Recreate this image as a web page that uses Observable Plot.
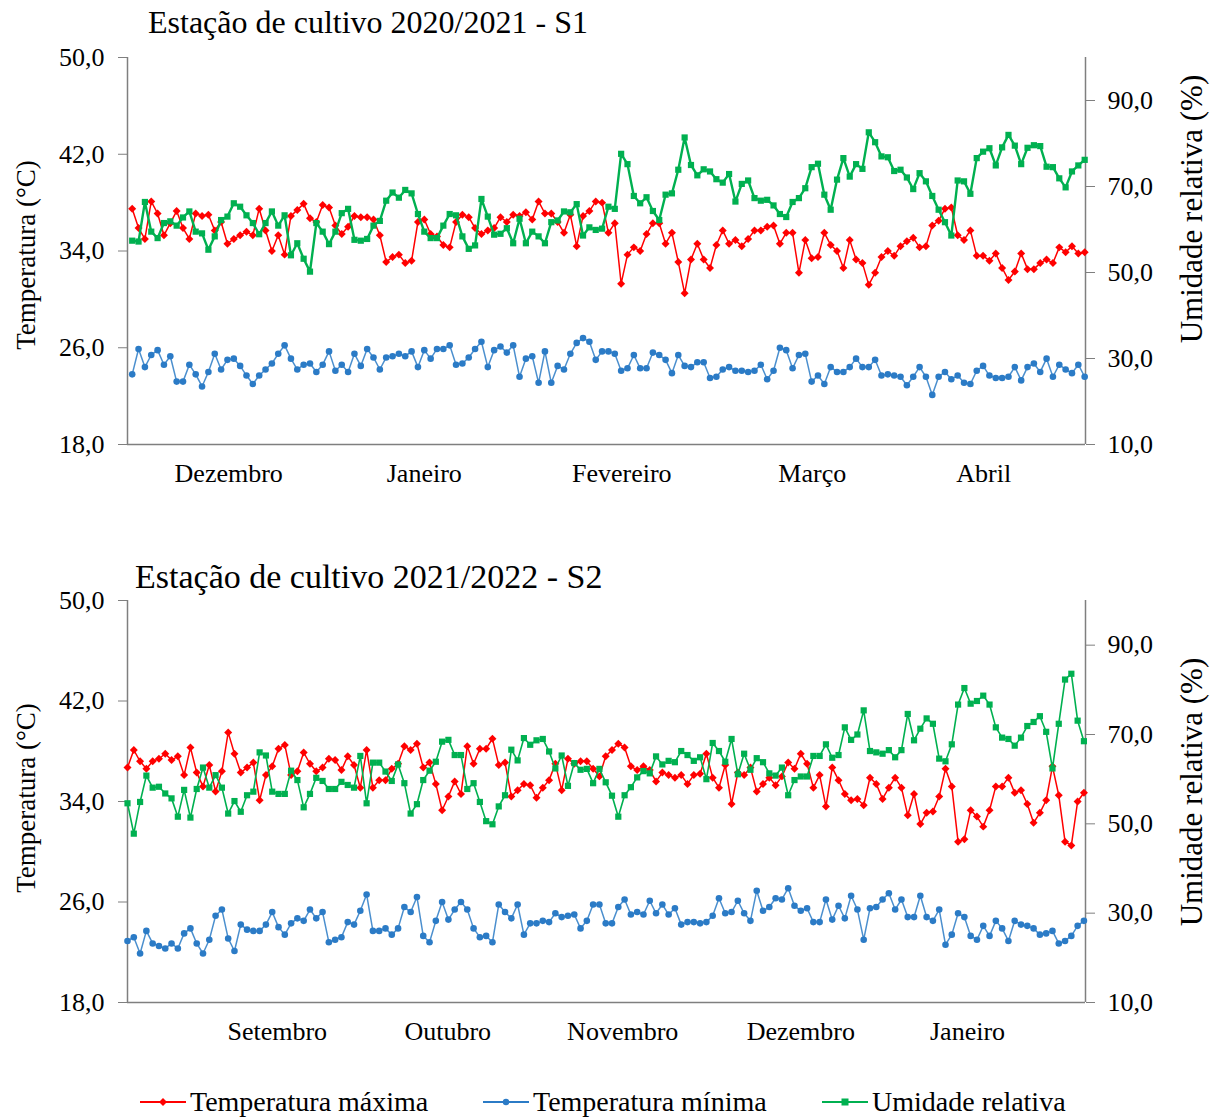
<!DOCTYPE html>
<html>
<head>
<meta charset="utf-8">
<script src="https://cdn.jsdelivr.net/npm/d3@7"></script>
<script src="https://cdn.jsdelivr.net/npm/@observablehq/plot@0.6"></script>
<style>
  body { margin: 0; background: #fff; }
  #page { position: relative; width: 1210px; height: 1119px; overflow: hidden;
          font-family: "Liberation Serif", "Times New Roman", serif; color: #000; }
  .panel { position: absolute; left: 0; }
  .title { position: absolute; white-space: nowrap; line-height: 1; }
  .vlabel { position: absolute; white-space: nowrap; line-height: 1;
            font-family: "Liberation Serif", "Times New Roman", serif;
            transform: translate(-50%, -50%) rotate(-90deg); }
  .legend-item { position: absolute; top: 1088px; display: flex; align-items: center;
                 font-size: 28px; white-space: nowrap; line-height: 1; }
  .legend-item svg { display: block; margin-right: 4px; }
</style>
</head>
<body>
<div id="page"></div>
<script>
// Shared scales: temperature on the left axis, relative humidity on the right axis
const tempDomain = [18, 50];
const rhDomain = [10, 100];
const tempTicks = [18, 26, 34, 42, 50];
const rhTicks = [10, 30, 50, 70, 90];

const seriesNames = ["Temperatura máxima", "Temperatura mínima", "Umidade relativa"];
const seriesColors = ["#ff0000", "#2b7bc6", "#00b050"];

// ---- Season 2020/2021 (S1): daily values, 1 Dec 2020 to 30 Apr 2021
const s1Title = "Estação de cultivo 2020/2021 - S1";
const s1Months = ["Dezembro", "Janeiro", "Fevereiro", "Março", "Abril"];
const s1MonthPos = [15.2, 46.0, 77.1, 107.1, 134.1];
const s1Tmax = [
  37.5, 35.9, 35.0, 38.1, 37.1, 35.3, 36.3, 37.3, 35.9, 35.0, 37.1, 36.9, 37.0, 35.7, 36.4, 34.6, 35.0, 35.3, 35.6, 35.3,
  37.5, 35.7, 34.0, 35.3, 33.7, 36.9, 37.4, 37.9, 36.7, 36.4, 37.8, 37.6, 36.1, 35.4, 36.0, 36.9, 36.8, 36.8,
  36.6, 35.3, 33.1, 33.5, 33.7, 33.0, 33.2, 36.4, 36.6, 35.4, 35.2, 34.5, 34.3, 36.4, 37.0, 36.8, 35.9, 35.4, 35.7, 35.9,
  36.8, 36.4, 37.0, 36.9, 37.2, 36.6, 38.1, 37.1, 37.1, 36.4, 35.5, 37.0, 34.4, 36.9, 37.3, 38.1, 38.0, 35.5,
  36.3, 31.3, 33.7, 34.3, 34.0, 35.4, 36.3, 36.3, 34.6, 35.5, 33.1, 30.5, 33.3, 34.6, 33.3, 32.6, 34.5, 35.7, 34.6, 34.9,
  34.4, 35.0, 35.7, 35.7, 36.0, 36.1, 34.6, 35.5, 35.5, 32.2, 34.9, 33.4, 33.5, 35.5, 34.5, 34.0, 32.6, 34.9,
  33.3, 33.0, 31.2, 32.2, 33.5, 34.0, 33.6, 34.4, 34.8, 35.1, 34.3, 34.4, 36.1, 36.5, 37.5, 37.6, 35.3, 34.9, 35.7, 33.6,
  33.6, 33.2, 33.8, 32.6, 31.6, 32.3, 33.8, 32.5, 32.5, 33.0, 33.3, 33.0, 34.3, 33.9, 34.4, 33.8, 33.9
];
const s1Tmin = [
  23.8, 25.9, 24.4, 25.4, 25.8, 24.6, 25.3, 23.2, 23.2, 24.6, 23.8, 22.8, 24.0, 25.5, 24.2, 25.0, 25.1, 24.5, 23.7, 23.0,
  23.7, 24.2, 24.7, 25.5, 26.2, 25.1, 24.2, 24.6, 24.7, 24.0, 24.6, 25.7, 24.1, 24.6, 24.0, 25.5, 24.5, 25.9,
  25.2, 24.2, 25.2, 25.3, 25.5, 25.3, 25.7, 24.4, 25.8, 25.1, 25.9, 25.9, 26.2, 24.6, 24.7, 25.2, 25.9, 26.5, 24.4, 25.8,
  26.1, 25.6, 26.2, 23.6, 25.1, 25.3, 23.1, 25.7, 23.1, 24.5, 24.2, 25.5, 26.4, 26.8, 26.5, 25.0, 25.7, 25.7,
  25.5, 24.1, 24.3, 25.4, 24.3, 24.3, 25.6, 25.4, 25.0, 23.9, 25.4, 24.5, 24.4, 24.8, 24.8, 23.5, 23.6, 24.2, 24.4, 24.1,
  24.1, 24.0, 24.1, 24.6, 23.4, 24.1, 26.0, 25.8, 24.3, 25.4, 25.5, 23.2, 23.7, 23.0, 24.4, 24.0, 24.0, 24.4,
  25.1, 24.4, 24.4, 25.0, 23.7, 23.8, 23.7, 23.6, 22.9, 23.6, 24.4, 23.6, 22.1, 23.6, 24.0, 23.4, 23.7, 23.1, 23.0, 24.1,
  24.5, 23.7, 23.5, 23.5, 23.6, 24.4, 23.3, 24.4, 24.7, 24.0, 25.1, 23.6, 24.6, 24.2, 23.9, 24.6, 23.6
];
const s1Rh = [
  57.4, 57.2, 66.4, 59.5, 58.0, 61.5, 61.9, 60.9, 62.8, 64.2, 59.5, 59.1, 55.3, 58.4, 62.2, 63.0, 66.1, 65.3, 63.3, 61.5,
  58.9, 61.5, 64.2, 60.9, 63.3, 54.0, 56.8, 53.2, 50.2, 61.5, 59.5, 56.6, 59.5, 63.8, 64.8, 57.6, 57.4, 57.8,
  60.9, 62.0, 66.7, 68.6, 67.4, 69.2, 68.4, 63.6, 59.5, 58.0, 58.0, 60.9, 63.6, 63.3, 58.4, 55.5, 56.3, 67.1, 63.0, 58.8,
  59.0, 60.3, 56.8, 62.5, 56.8, 59.5, 58.4, 56.8, 61.7, 62.1, 64.2, 64.0, 65.9, 58.6, 60.5, 59.9, 60.2, 65.3,
  64.8, 77.6, 75.2, 67.8, 66.1, 67.5, 64.3, 62.2, 68.1, 68.4, 73.9, 81.4, 75.0, 72.6, 74.0, 73.5, 71.7, 70.9, 72.9, 66.5,
  70.6, 71.4, 67.3, 66.7, 66.9, 65.6, 63.6, 62.9, 66.4, 67.3, 69.6, 74.5, 75.3, 68.1, 64.6, 71.6, 76.6, 72.3,
  75.2, 74.1, 82.6, 80.3, 77.0, 76.8, 73.6, 73.9, 72.1, 69.4, 73.1, 71.2, 67.8, 64.6, 61.7, 58.6, 71.4, 71.2, 68.3, 76.6,
  78.1, 78.9, 74.9, 79.1, 82.0, 79.5, 75.2, 79.0, 79.6, 79.4, 74.6, 74.5, 71.9, 69.8, 73.5, 74.9, 76.2
];

// ---- Season 2021/2022 (S2)
const s2Title = "Estação de cultivo 2021/2022 - S2";
const s2Months = ["Setembro", "Outubro", "Novembro", "Dezembro", "Janeiro"];
const s2MonthPos = [23.8, 50.9, 78.7, 107.0, 133.5];
const s2Tmax = [
  36.7, 38.1, 37.2, 36.6, 37.2, 37.4, 37.8, 37.3, 37.6, 36.1, 38.3, 36.3, 35.2, 36.9, 34.8, 36.4, 39.5, 37.8, 36.3, 36.7,
  37.1, 34.1, 36.1, 36.8, 38.2, 38.5, 36.1, 36.4, 37.9, 37.0, 36.4, 36.7, 37.4, 37.3, 36.5, 37.6, 36.9, 35.1, 38.1,
  35.1, 35.7, 35.7, 36.6, 37.0, 38.4, 38.1, 38.6, 36.7, 37.1, 35.4, 33.3, 34.4, 35.6, 34.6, 38.4, 37.0, 38.2, 38.2, 39.0,
  36.9, 37.1, 34.4, 34.9, 35.4, 35.3, 34.3, 35.1, 35.7, 37.0, 34.9, 37.4, 37.0, 37.2, 37.2, 36.6, 36.0, 37.6,
  38.1, 38.6, 38.3, 36.8, 36.5, 36.8, 36.5, 35.6, 36.3, 36.1, 35.9, 36.1, 35.4, 36.1, 36.2, 37.8, 35.9, 35.1, 36.9, 33.8,
  36.3, 36.1, 36.7, 34.8, 35.4, 35.9, 35.3, 36.0, 37.1, 36.6, 37.8, 37.0, 35.1, 36.1, 33.6, 36.7, 35.7, 34.6, 34.1,
  34.2, 33.7, 35.9, 35.4, 34.2, 35.1, 35.9, 35.1, 32.9, 34.6, 32.2, 33.1, 33.2, 34.4, 36.6, 35.2, 30.8, 31.0, 33.3, 32.8,
  32.0, 33.3, 35.2, 35.2, 35.9, 34.7, 34.9, 33.8, 32.3, 33.1, 34.1, 36.8, 34.5, 30.8, 30.5, 34.0, 34.7
];
const s2Tmin = [
  22.9, 23.2, 21.9, 23.7, 22.7, 22.5, 22.3, 22.7, 22.3, 23.5, 23.9, 22.7, 21.9, 23.0, 24.9, 25.4, 23.1, 22.1, 24.2, 23.8,
  23.7, 23.7, 24.2, 25.2, 24.0, 23.4, 24.3, 24.7, 24.5, 25.4, 24.7, 25.2, 22.8, 23.0, 23.2, 24.4, 24.2, 25.3, 26.6,
  23.7, 23.7, 23.9, 23.4, 23.9, 25.6, 25.2, 26.4, 23.3, 22.8, 24.5, 26.0, 24.6, 25.4, 26.0, 25.4, 23.9, 23.2, 23.3, 22.8,
  25.8, 25.2, 24.7, 25.8, 23.4, 24.3, 24.3, 24.5, 24.4, 25.1, 24.8, 24.9, 25.0, 23.9, 24.5, 25.8, 25.8, 24.3,
  24.3, 25.6, 26.2, 25.0, 25.2, 25.0, 26.1, 25.1, 25.8, 25.0, 25.5, 24.2, 24.4, 24.4, 24.3, 24.4, 24.9, 26.3, 25.1, 25.2,
  26.1, 25.1, 24.5, 26.9, 25.3, 25.6, 26.3, 26.2, 27.1, 25.7, 25.3, 25.5, 24.4, 24.4, 26.2, 24.6, 25.7, 24.7, 26.5,
  25.4, 23.0, 25.5, 25.6, 26.2, 26.7, 25.4, 26.2, 24.8, 24.8, 26.5, 24.8, 24.5, 25.4, 22.6, 23.4, 25.1, 24.8, 23.3, 23.0,
  24.1, 23.3, 24.5, 23.9, 22.9, 24.5, 24.2, 24.1, 23.9, 23.4, 23.5, 23.7, 22.7, 22.9, 23.3, 24.1, 24.5
];
const s2Rh = [
  54.6, 47.8, 54.9, 60.8, 58.1, 58.3, 56.8, 55.7, 51.6, 57.6, 51.4, 57.8, 62.6, 58.1, 60.9, 58.1, 52.3, 55.1, 52.7, 56.4,
  57.2, 66.0, 65.3, 57.2, 56.7, 56.7, 61.9, 59.8, 53.7, 56.7, 60.3, 59.6, 57.8, 57.8, 59.4, 58.7, 58.1, 65.2, 54.6,
  63.7, 63.7, 61.7, 59.6, 63.3, 59.1, 52.3, 54.4, 59.8, 61.9, 63.9, 68.4, 68.8, 65.4, 65.4, 57.8, 59.1, 54.9, 50.6, 49.9,
  53.9, 56.4, 66.6, 64.2, 69.2, 67.7, 68.7, 69.0, 66.2, 62.4, 65.3, 58.5, 63.6, 62.1, 62.3, 59.1, 62.3, 59.3,
  56.3, 51.6, 56.4, 58.2, 60.4, 61.8, 61.3, 65.1, 63.3, 64.1, 63.8, 66.3, 65.4, 64.1, 64.9, 60.0, 68.1, 66.3, 63.9, 69.0,
  61.1, 65.7, 62.1, 64.7, 63.8, 61.3, 60.8, 62.6, 56.4, 59.8, 60.6, 60.6, 65.2, 65.2, 67.8, 64.8, 65.4, 71.6, 68.8,
  70.0, 75.4, 66.3, 66.0, 65.7, 66.5, 64.9, 66.5, 74.6, 68.7, 71.3, 73.6, 72.4, 64.6, 64.0, 67.8, 76.7, 80.4, 76.9, 77.5,
  78.7, 76.7, 71.6, 69.3, 69.0, 67.5, 69.3, 71.9, 72.8, 74.1, 70.6, 62.4, 72.4, 82.3, 83.6, 73.1, 68.5
];

// ---- helpers
const AXIS = "#7f7f7f";
const rhToT = v => tempDomain[0] + (v - rhDomain[0]) * (tempDomain[1] - tempDomain[0]) / (rhDomain[1] - rhDomain[0]);
const tToRh = t => rhDomain[0] + (t - tempDomain[0]) * (rhDomain[1] - rhDomain[0]) / (tempDomain[1] - tempDomain[0]);
const fmt = v => (Math.round(v * 10) / 10).toFixed(1).replace(".", ",");

function drawPanel({tmax, tmin, rh, months, monthPos, xDomain, height, rhWidth}) {
  const rows = d3.range(tmax.length).map(i => ({day: i, tmax: tmax[i], tmin: tmin[i], rh: rh[i]}));
  const monthAt = new Map(monthPos.map((p, k) => [p, months[k]]));
  return Plot.plot({
    width: 1210,
    height,
    marginTop: 57,
    marginBottom: 56,
    marginLeft: 127,
    marginRight: 125,
    style: {fontFamily: "'Liberation Serif', 'Times New Roman', serif", fontSize: "26px", color: "#000", background: "transparent", overflow: "visible"},
    x: {domain: xDomain},
    y: {domain: tempDomain},
    marks: [
      Plot.axisY(tempTicks, {tickFormat: fmt, tickSize: 9, tickPadding: 14, stroke: AXIS, label: null}),
      Plot.axisY(rhTicks.map(rhToT), {anchor: "right", tickFormat: t => fmt(tToRh(t)), tickSize: 9, tickPadding: 13, stroke: AXIS, label: null}),
      Plot.axisX(monthPos, {tickSize: 0, tickPadding: 19, tickFormat: p => monthAt.get(p), label: null}),
      Plot.ruleX([xDomain[0], xDomain[1]], {stroke: AXIS, strokeWidth: 1.5}),
      Plot.ruleY([tempDomain[0]], {stroke: AXIS, strokeWidth: 1.5}),
      // maximum temperature
      Plot.line(rows, {x: "day", y: "tmax", stroke: seriesColors[0], strokeWidth: 1.5}),
      Plot.dot(rows, {x: "day", y: "tmax", symbol: "diamond2", fill: seriesColors[0], stroke: "none", r: 3.6}),
      // minimum temperature
      Plot.line(rows, {x: "day", y: "tmin", stroke: seriesColors[1], strokeWidth: 1.5, strokeOpacity: 0.85}),
      Plot.dot(rows, {x: "day", y: "tmin", symbol: "circle", fill: seriesColors[1], stroke: "none", r: 3.3}),
      // relative humidity, drawn against the right-hand axis
      Plot.line(rows, {x: "day", y: d => rhToT(d.rh), stroke: seriesColors[2], strokeWidth: rhWidth}),
      Plot.dot(rows, {x: "day", y: d => rhToT(d.rh), symbol: "square", fill: seriesColors[2], stroke: "none", r: 3.5})
    ]
  });
}

const page = document.getElementById("page");

function place(el, top) {
  const wrap = document.createElement("div");
  wrap.className = "panel";
  wrap.style.top = top + "px";
  wrap.appendChild(el);
  page.appendChild(wrap);
}

place(drawPanel({tmax: s1Tmax, tmin: s1Tmin, rh: s1Rh, months: s1Months, monthPos: s1MonthPos,
                 xDomain: [-0.74, s1Tmax.length - 1 + 0.13], height: 500, rhWidth: 2.4}), 0);
place(drawPanel({tmax: s2Tmax, tmin: s2Tmin, rh: s2Rh, months: s2Months, monthPos: s2MonthPos,
                 xDomain: [0, s2Tmax.length - 1 + 0.25], height: 515, rhWidth: 1.6}), 543);

function addText(cls, text, css) {
  const d = document.createElement("div");
  d.className = cls;
  d.textContent = text;
  Object.assign(d.style, css);
  page.appendChild(d);
}

addText("title", s1Title, {left: "148px", top: "6px", fontSize: "32px"});
addText("title", s2Title, {left: "135px", top: "560px", fontSize: "34px"});
addText("vlabel", "Temperatura (°C)", {left: "26px", top: "255px", fontSize: "27px"});
addText("vlabel", "Umidade relativa (%)", {left: "1191px", top: "209px", fontSize: "31px"});
addText("vlabel", "Temperatura (°C)", {left: "26px", top: "798px", fontSize: "27px"});
addText("vlabel", "Umidade relativa (%)", {left: "1191px", top: "792px", fontSize: "31px"});

// legend below the two panels
const legendLeft = [140, 483, 822];
const swatch = [
  c => `<polygon points="23,3 27,7 23,11 19,7" fill="${c}"/>`,
  c => `<circle cx="23" cy="7" r="3.2" fill="${c}"/>`,
  c => `<rect x="19.5" y="3.5" width="7" height="7" fill="${c}"/>`
];
seriesNames.forEach((name, k) => {
  const item = document.createElement("div");
  item.className = "legend-item";
  item.style.left = legendLeft[k] + "px";
  item.innerHTML = `<svg width="46" height="14"><line x1="0" y1="7" x2="46" y2="7" stroke="${seriesColors[k]}" stroke-width="2"/>${swatch[k](seriesColors[k])}</svg><span>${name}</span>`;
  page.appendChild(item);
});
</script>
</body>
</html>
